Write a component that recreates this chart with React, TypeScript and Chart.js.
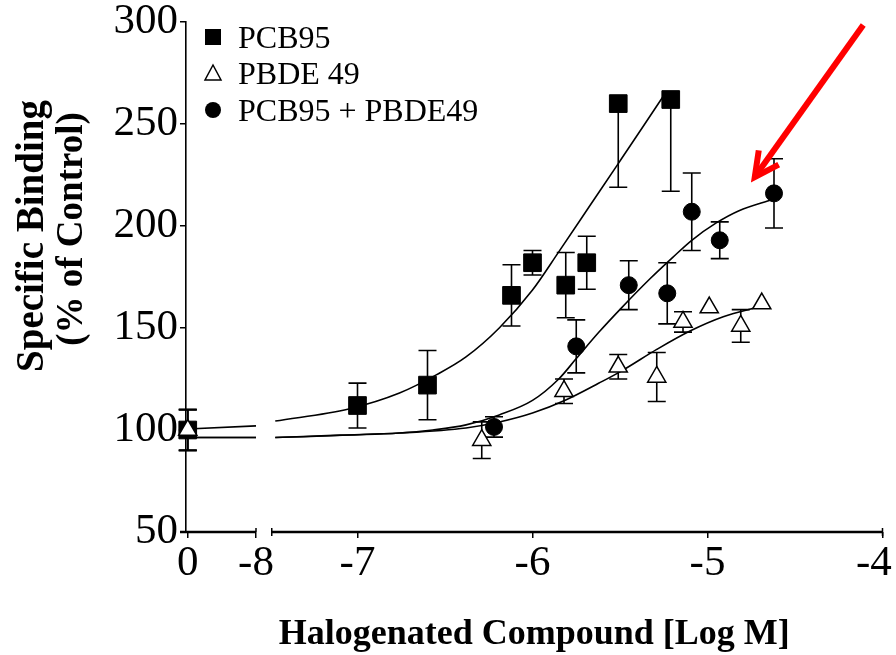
import React, { useEffect, useRef } from "react";
import { Chart, registerables } from "chart.js";

Chart.register(...registerables);

// ---------------- data (x in log M; 0 = vehicle control) ----------------
const PCB95_X = [0, -7.0, -6.6, -6.12, -6.0, -5.81, -5.69, -5.51, -5.21];
const PCB95_Y = [100, 112, 122, 166, 182, 171, 182, 260, 262];
const PCB95_ERR_UP = [10, 11, 17, 15, 6, 16, 13, 0, 0];
const PCB95_ERR_DOWN = [10, 11, 17, 15, 6, 16, 13, 41, 45];

const PBDE49_X = [0, -6.29, -5.82, -5.51, -5.29, -5.14, -4.99, -4.81, -4.69];
const PBDE49_Y = [100, 95, 119, 131, 126, 153, 160, 151, 162];
const PBDE49_ERR = [10, 9, 6, 6, 12, 5, 0, 8, 0];

const MIX_X = [0, -6.22, -5.75, -5.45, -5.23, -5.09, -4.93, -4.62];
const MIX_Y = [100, 101.5, 141, 171, 167, 207, 193, 216];
const MIX_ERR = [10, 5, 13, 12, 15, 19, 9, 17];

// fitted curves
const FIT_PCB95_X = [0, -8, -7.47, -7.05, -6.76, -6.55, -6.38, -6.19, -6.0, -5.85, -5.66, -5.51, -5.37, -5.25];
const FIT_PCB95_Y = [100.5, 102, 104.4, 110.3, 118.1, 127, 135.8, 150, 168.6, 187.3, 211.5, 230.6, 248.5, 264];

const FIT_MIX_X = [0, -8, -7.47, -7.1, -6.76, -6.57, -6.38, -6.19, -6.0, -5.85, -5.75, -5.62, -5.49, -5.33, -5.2, -5.09, -4.95, -4.82, -4.63];
const FIT_MIX_Y = [96.3, 96.3, 96.3, 97.5, 98.5, 100, 102.5, 107.4, 114.5, 125, 135, 148, 160, 174, 184.5, 193, 201.5, 207.5, 213];

const FIT_PBDE49_X = [0, -8, -7.47, -6.76, -6.38, -6.19, -6.0, -5.81, -5.62, -5.49, -5.29, -5.1, -4.91, -4.7];
const FIT_PBDE49_Y = [96.3, 96.3, 96.3, 98.5, 101, 103.9, 108.3, 114.7, 123, 129, 139.5, 148.5, 155.5, 160.5];

const X_TICKS = [0, -8, -7, -6, -5, -4];
const X_TICK_LABELS = ["0", "-8", "-7", "-6", "-5", "-4\u2009\u2009"];
const Y_MIN = 50;
const Y_MAX = 300;
const Y_STEP = 50;

const LEGEND_LABELS = ["PCB95", "PBDE 49", "PCB95 + PBDE49"];
const Y_TITLE = ["Specific Binding", "(% of Control)"];
const X_TITLE = "Halogenated Compound [Log M]";

// annotation arrow (data coordinates: tail -> tip)
const ARROW_FROM = { x: -4.11, y: 298.5 };
const ARROW_TO = { x: -4.73, y: 224 };

// ---------------- broken-axis mapping ----------------
const X_MIN = -7.98;
const X_MAX = -4;
const CONTROL_POS = -7.97;
const BREAK_LEFT = -7.58;
const BREAK_RIGHT = -7.49;

function axisPos(v: number): number {
  if (v === 0) return CONTROL_POS;
  if (v === -8) return BREAK_LEFT;
  return v;
}

const SERIF = "'Liberation Serif', 'Times New Roman', serif";

function points(xs: number[], ys: number[]) {
  return xs.map((x, i) => ({ x: axisPos(x), y: ys[i] }));
}
function seg1(xs: number[], ys: number[]) {
  return points(xs, ys).filter((_, i) => xs[i] === 0 || xs[i] === -8);
}
function seg2(xs: number[], ys: number[]) {
  return points(xs, ys).filter((_, i) => !(xs[i] === 0 || xs[i] === -8));
}

const errorBarPlugin = {
  id: "errorBars",
  beforeDatasetsDraw(chart: any) {
    const { ctx } = chart;
    const xs = chart.scales.x;
    const ys = chart.scales.y;
    ctx.save();
    ctx.strokeStyle = "#000";
    ctx.lineWidth = 1.6;
    chart.data.datasets.forEach((ds: any) => {
      if (!ds.errUp) return;
      ds.data.forEach((p: any, j: number) => {
        const px = xs.getPixelForValue(p.x);
        const yc = ys.getPixelForValue(p.y);
        const up = ds.errUp[j];
        const dn = ds.errDown[j];
        ctx.beginPath();
        if (up > 0) {
          const yt = ys.getPixelForValue(p.y + up);
          ctx.moveTo(px, yc);
          ctx.lineTo(px, yt);
          ctx.moveTo(px - 9, yt);
          ctx.lineTo(px + 9, yt);
        }
        if (dn > 0) {
          const yb = ys.getPixelForValue(p.y - dn);
          ctx.moveTo(px, yc);
          ctx.lineTo(px, yb);
          ctx.moveTo(px - 9, yb);
          ctx.lineTo(px + 9, yb);
        }
        ctx.stroke();
      });
    });
    ctx.restore();
  },
};

const decorPlugin = {
  id: "decor",
  afterDraw(chart: any) {
    const { ctx, chartArea } = chart;
    const xs = chart.scales.x;
    const ys = chart.scales.y;
    ctx.save();
    // broken x axis line
    const yb = chartArea.bottom;
    const bl = xs.getPixelForValue(BREAK_LEFT);
    const br = xs.getPixelForValue(BREAK_RIGHT);
    ctx.strokeStyle = "#000";
    ctx.lineWidth = 2.5;
    ctx.beginPath();
    ctx.moveTo(chartArea.left - 6, yb);
    ctx.lineTo(bl, yb);
    ctx.moveTo(br, yb);
    ctx.lineTo(chartArea.right, yb);
    ctx.stroke();
    ctx.lineWidth = 1.5;
    ctx.beginPath();
    ctx.moveTo(br, yb - 4);
    ctx.lineTo(br, yb + 4);
    ctx.moveTo(chartArea.right, yb - 4);
    ctx.lineTo(chartArea.right, yb + 4);
    ctx.moveTo(bl, yb - 4);
    ctx.lineTo(bl, yb);
    ctx.stroke();

    // y-axis title (two lines, rotated)
    ctx.fillStyle = "#000";
    ctx.textAlign = "center";
    ctx.textBaseline = "middle";
    ctx.save();
    ctx.translate(33, 236);
    ctx.rotate(-Math.PI / 2);
    ctx.font = `bold 39px ${SERIF}`;
    ctx.fillText(Y_TITLE[0], 0, 0);
    ctx.font = `bold 37px ${SERIF}`;
    ctx.fillText(Y_TITLE[1], 7, 39);
    ctx.restore();

    // legend
    const lx = 213;
    const rows = [37, 73, 110];
    ctx.lineWidth = 1.5;
    ctx.fillStyle = "#000";
    ctx.fillRect(lx - 8, rows[0] - 8, 16, 16);
    ctx.beginPath();
    ctx.moveTo(lx, rows[1] - 8);
    ctx.lineTo(lx + 8, rows[1] + 7);
    ctx.lineTo(lx - 8, rows[1] + 7);
    ctx.closePath();
    ctx.fillStyle = "#fff";
    ctx.fill();
    ctx.strokeStyle = "#000";
    ctx.stroke();
    ctx.beginPath();
    ctx.arc(lx, rows[2], 8, 0, Math.PI * 2);
    ctx.fillStyle = "#000";
    ctx.fill();
    ctx.font = `32px ${SERIF}`;
    ctx.textAlign = "left";
    ctx.textBaseline = "alphabetic";
    LEGEND_LABELS.forEach((t, i) => ctx.fillText(t, 238, rows[i] + 11));

    // red arrow
    const tx = xs.getPixelForValue(ARROW_FROM.x);
    const ty = ys.getPixelForValue(ARROW_FROM.y);
    const hx = xs.getPixelForValue(ARROW_TO.x);
    const hy = ys.getPixelForValue(ARROW_TO.y);
    const ang = Math.atan2(ty - hy, tx - hx);
    const len = 27;
    const spread = (27 * Math.PI) / 180;
    ctx.strokeStyle = "#ff0000";
    ctx.lineWidth = 6;
    ctx.lineCap = "butt";
    ctx.lineJoin = "miter";
    ctx.beginPath();
    ctx.moveTo(tx, ty);
    ctx.lineTo(hx, hy);
    ctx.stroke();
    ctx.beginPath();
    ctx.moveTo(hx + len * Math.cos(ang - spread), hy + len * Math.sin(ang - spread));
    ctx.lineTo(hx, hy);
    ctx.lineTo(hx + len * Math.cos(ang + spread), hy + len * Math.sin(ang + spread));
    ctx.stroke();
    ctx.restore();
  },
};

export default function App() {
  const canvasRef = useRef<HTMLCanvasElement | null>(null);

  useEffect(() => {
    const canvas = canvasRef.current;
    if (!canvas) return;

    const curve = (data: any[], order: number) => ({
      type: "scatter" as const,
      data,
      showLine: true,
      borderColor: "#000",
      borderWidth: 1.6,
      pointRadius: 0,
      pointHoverRadius: 0,
      cubicInterpolationMode: "monotone" as const,
      fill: false,
      order,
    });

    const chart = new Chart(canvas, {
      type: "scatter",
      data: {
        datasets: [
          {
            label: "PCB95 + PBDE49",
            data: points(MIX_X, MIX_Y),
            pointStyle: "circle",
            pointRadius: 8.5,
            backgroundColor: "#000",
            borderColor: "#000",
            borderWidth: 1,
            clip: false,
            order: 3,
            errUp: MIX_ERR,
            errDown: MIX_ERR,
          } as any,
          {
            label: "PCB95",
            data: points(PCB95_X, PCB95_Y),
            pointStyle: "rect",
            pointRadius: 12.5,
            backgroundColor: "#000",
            borderColor: "#000",
            borderWidth: 1,
            clip: false,
            order: 2,
            errUp: PCB95_ERR_UP,
            errDown: PCB95_ERR_DOWN,
          } as any,
          {
            label: "PBDE 49",
            data: points(PBDE49_X, PBDE49_Y),
            pointStyle: "triangle",
            pointRadius: 10.5,
            backgroundColor: "#fff",
            borderColor: "#000",
            borderWidth: 1.5,
            clip: false,
            order: 1,
            errUp: PBDE49_ERR,
            errDown: PBDE49_ERR,
          } as any,
          curve(seg1(FIT_PCB95_X, FIT_PCB95_Y), 5),
          curve(seg2(FIT_PCB95_X, FIT_PCB95_Y), 5),
          curve(seg1(FIT_MIX_X, FIT_MIX_Y), 5),
          curve(seg2(FIT_MIX_X, FIT_MIX_Y), 5),
          curve(seg1(FIT_PBDE49_X, FIT_PBDE49_Y), 5),
          curve(seg2(FIT_PBDE49_X, FIT_PBDE49_Y), 5),
        ],
      },
      options: {
        responsive: false,
        animation: false,
        devicePixelRatio: 1,
        layout: { padding: { left: 0, top: 22, right: 13, bottom: 0 } },
        plugins: {
          legend: { display: false },
          tooltip: { enabled: false },
        },
        scales: {
          x: {
            type: "linear",
            min: X_MIN,
            max: X_MAX,
            afterBuildTicks: (scale: any) => {
              scale.ticks = X_TICKS.map((v) => ({ value: axisPos(v) }));
            },
            afterFit: (scale: any) => {
              scale.height = 123;
              scale.paddingLeft = 0;
              scale.paddingRight = 0;
            },
            ticks: {
              autoSkip: false,
              maxRotation: 0,
              padding: 0,
              color: "#000",
              font: { family: SERIF, size: 43 },
              callback: (_v: any, i: number) => X_TICK_LABELS[i],
            },
            grid: {
              drawOnChartArea: false,
              drawTicks: true,
              tickLength: 6,
              color: "#000",
              lineWidth: 1.5,
            },
            border: { display: false },
            title: {
              display: true,
              text: X_TITLE,
              color: "#000",
              font: { family: SERIF, size: 36, weight: "bold", lineHeight: 1.1 },
              padding: { top: 0, bottom: 0 },
            },
          },
          y: {
            type: "linear",
            min: Y_MIN,
            max: Y_MAX,
            afterFit: (scale: any) => {
              scale.width = 186;
              scale.paddingTop = 0;
              scale.paddingBottom = 0;
            },
            ticks: {
              stepSize: Y_STEP,
              padding: 2,
              color: "#000",
              font: { family: SERIF, size: 43 },
            },
            grid: {
              drawOnChartArea: false,
              drawTicks: true,
              tickLength: 6,
              color: "#000",
              lineWidth: 1.5,
            },
            border: { display: true, color: "#000", width: 1.6 },
          },
        },
      },
      plugins: [errorBarPlugin, decorPlugin],
    } as any);

    return () => chart.destroy();
  }, []);

  return (
    <div style={{ position: "fixed", left: 0, top: 0, width: 896, height: 655, background: "#fff" }}>
      <canvas ref={canvasRef} width={896} height={655} style={{ display: "block" }} />
    </div>
  );
}
